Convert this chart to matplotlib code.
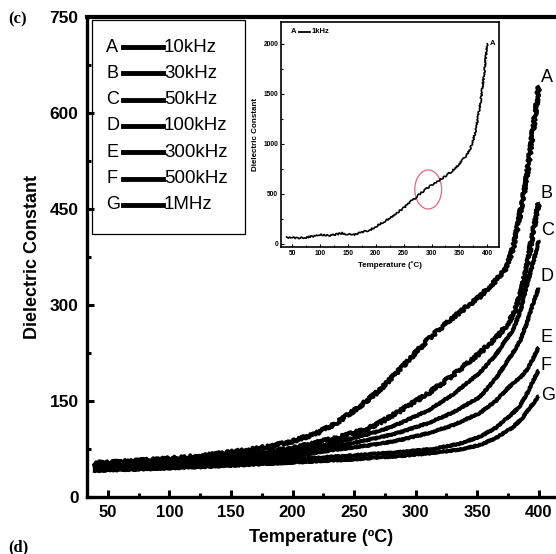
import matplotlib
matplotlib.use('Agg')
import matplotlib.pyplot as plt
from matplotlib.patches import Ellipse, Rectangle
from matplotlib.lines import Line2D

plt.rcParams['font.family'] = ['Liberation Sans', 'DejaVu Sans']

# ---------------- main data ----------------
letters = ['A', 'B', 'C', 'D', 'E', 'F', 'G']
freqs = ['10kHz', '30kHz', '50kHz', '100kHz', '300kHz', '500kHz', '1MHz']

temp_A = [38, 70, 100, 130, 150, 175, 200, 220, 235, 250, 260, 271, 290, 311, 330, 352, 365, 374, 380, 387, 391, 395, 398, 400]
eps_A = [53, 56, 60, 65, 70, 77, 87, 100, 115, 135, 150, 167, 205, 248, 280, 313, 338, 358, 395, 464, 510, 568, 610, 642]

temp_B = [38, 70, 100, 150, 200, 235, 260, 271, 287, 311, 330, 352, 365, 374, 380, 385, 390, 395, 398, 400]
eps_B = [51, 54, 57, 64, 76, 92, 106, 116, 134, 163, 190, 225, 248, 268, 287, 315, 355, 410, 440, 459]

temp_C = [38, 70, 100, 150, 200, 235, 271, 287, 311, 330, 352, 365, 379, 385, 390, 396, 400]
eps_C = [49, 52, 55, 61, 72, 85, 103, 115, 136, 160, 194, 222, 261, 290, 328, 370, 401]

temp_D = [38, 70, 100, 150, 200, 235, 271, 287, 311, 330, 352, 365, 379, 385, 390, 395, 400]
eps_D = [47, 50, 53, 58, 67, 79, 93, 101, 116, 132, 156, 185, 225, 245, 270, 300, 327]

temp_E = [38, 70, 100, 150, 200, 235, 271, 287, 311, 330, 352, 365, 379, 385, 390, 395, 400]
eps_E = [45, 48, 51, 56, 64, 74, 83, 89, 100, 112, 131, 150, 178, 186, 198, 215, 234]

temp_F = [38, 70, 100, 150, 200, 250, 287, 314, 335, 352, 365, 379, 385, 390, 395, 400]
eps_F = [43, 45, 48, 53, 59, 65, 70, 75, 83, 94, 108, 131, 143, 160, 180, 198]

temp_G = [38, 70, 100, 150, 200, 250, 287, 314, 335, 352, 365, 379, 387, 393, 397, 400]
eps_G = [41, 43, 45, 49, 54, 59, 64, 69, 74, 81, 92, 109, 124, 140, 150, 158]

# ---------------- inset data (1kHz) ----------------
temp_in = [40, 50, 60, 75, 90, 100, 120, 140, 150, 160, 175, 190, 200, 220, 240, 250, 260, 275, 290,
           300, 310, 320, 335, 350, 360, 365, 370, 375, 380, 385, 390, 395, 400]
eps_in = [70, 62, 60, 66, 80, 92, 86, 108, 96, 92, 118, 140, 175, 240, 320, 360, 410, 480, 550,
          590, 625, 660, 720, 800, 870, 910, 960, 1040, 1160, 1320, 1500, 1740, 2000]

curves = [(temp_A, eps_A), (temp_B, eps_B), (temp_C, eps_C), (temp_D, eps_D),
          (temp_E, eps_E), (temp_F, eps_F), (temp_G, eps_G)]
label_dy = [9, 10, 10, 11, 10, 5, 0]   # pixel offset of end letters
sketch = [(1.6, 3, 3), (1.6, 3, 3), (0.6, 4, 3), (0.6, 4, 3), (0.6, 4, 3), (0.6, 4, 3), (0.6, 4, 3)]

fig = plt.figure(figsize=(5.56, 5.54), dpi=100)
ax = fig.add_axes([87 / 556, 57 / 554, 1 - 87 / 556, 480 / 554])

for (t, e), sk in zip(curves, sketch):
    ln, = ax.plot(t, e, color='black', lw=2.8, solid_capstyle='butt')
    ln.set_sketch_params(*sk)

for (t, e), let, dy in zip(curves, letters, label_dy):
    ax.annotate(let, (t[-1], e[-1]), xytext=(2, dy), textcoords='offset pixels',
                ha='left', va='center', fontsize=13)

ax.set_xlim(33, 414)
ax.set_ylim(0, 750)
ax.set_xticks(range(50, 401, 50))
ax.set_xticks(range(75, 400, 50), minor=True)
ax.set_yticks(range(0, 751, 150))
ax.set_yticks(range(75, 751, 150), minor=True)
ax.tick_params(which='major', direction='in', length=5, width=2.2, pad=6)
ax.tick_params(which='minor', direction='in', length=3, width=2.2)
ax.tick_params(axis='x', labelsize=12)
ax.tick_params(axis='y', labelsize=12.5)
for lab in ax.get_xticklabels() + ax.get_yticklabels():
    lab.set_fontweight('bold')
ax.spines['right'].set_visible(False)
ax.spines['left'].set_linewidth(2.4)
ax.spines['bottom'].set_linewidth(2.4)
ax.spines['top'].set_linewidth(3)
ax.set_xlabel('Temperature (ºC)', fontsize=13, fontweight='bold', labelpad=6)
ax.set_ylabel('Dielectric Constant', fontsize=13, fontweight='bold', labelpad=6)

# legend box (letter, line, frequency)
leg_box = Rectangle((92 / 556, 1 - 234 / 554), 153 / 556, 214 / 554, transform=fig.transFigure,
                    fill=False, lw=0.9, edgecolor='black')
fig.patches.append(leg_box)
for i, (let, fr) in enumerate(zip(letters, freqs)):
    yy = 1 - (47 + 26.3 * i) / 554
    fig.text(106 / 556, yy, let, fontsize=13, va='center', ha='left')
    fig.lines.append(Line2D([123 / 556, 163 / 556], [yy, yy], transform=fig.transFigure,
                            color='black', lw=3.5))
    fig.text(164 / 556, yy, fr, fontsize=13.5, va='center', ha='left')

fig.text(8 / 556, 1 - 19 / 554, '(c)', fontsize=12, fontweight='bold',
         family='Liberation Serif', va='center')
fig.text(8 / 556, 1 - 547 / 554, '(d)', fontsize=12, fontweight='bold',
         family='Liberation Serif', va='center')

# ---------------- inset ----------------
axi = fig.add_axes([281 / 556, 1 - 247 / 554, 218 / 556, 225 / 554])
ln, = axi.plot(temp_in, eps_in, color='black', lw=1.2)
ln.set_sketch_params(0.8, 3, 3)
axi.set_xlim(30, 421)
axi.set_ylim(-30, 2218)
axi.set_xticks(range(50, 401, 50))
axi.set_xticks(range(75, 400, 50), minor=True)
axi.set_yticks(range(0, 2001, 500))
axi.set_yticks(range(250, 2001, 500), minor=True)
axi.tick_params(which='major', direction='in', length=2.5, width=0.8, labelsize=4.8, pad=2)
axi.tick_params(which='minor', direction='in', length=1.5, width=0.8)
for lab in axi.get_xticklabels() + axi.get_yticklabels():
    lab.set_fontweight('bold')
for s in axi.spines.values():
    s.set_linewidth(1.2)
axi.set_xlabel('Temperature (˚C)', fontsize=5.8, fontweight='bold', labelpad=3)
axi.set_ylabel('Dielectric Constant', fontsize=5.8, fontweight='bold', labelpad=3)
axi.add_patch(Ellipse((294, 545), 48, 390, fill=False, edgecolor='#e06a78', lw=0.9))
axi.annotate('A', (temp_in[-1], eps_in[-1]), xytext=(2, 0), textcoords='offset points',
             fontsize=5.5, fontweight='bold', ha='left', va='center')
axi.plot([62, 82], [2120, 2120], color='black', lw=1.3)
axi.text(58, 2120, 'A', fontsize=5.5, fontweight='bold', ha='right', va='center')
axi.text(85, 2120, '1kHz', fontsize=5.5, fontweight='bold', ha='left', va='center')

fig.savefig('out.png', dpi=100)
